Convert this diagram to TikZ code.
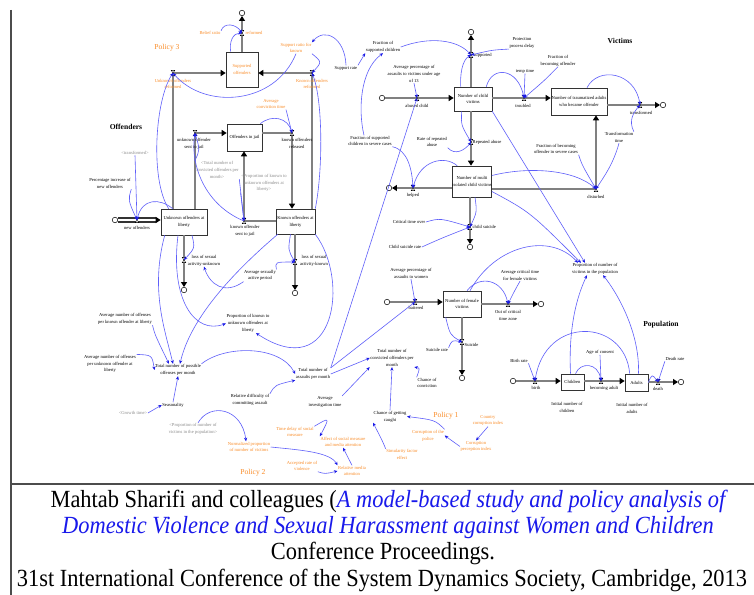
\documentclass[tikz,border=0pt]{standalone}
\usepackage{fontspec}
\setmainfont{Liberation Serif}
\usetikzlibrary{arrows.meta,calc}
\definecolor{orgc}{RGB}{250,140,40}
\definecolor{linkc}{RGB}{95,95,250}
\definecolor{linkd}{RGB}{25,25,230}
\definecolor{capblue}{RGB}{25,25,235}
\tikzset{
 lbl/.style={font=\fontsize{4.6}{6.8}\selectfont, align=center, inner sep=0.5bp},
 olbl/.style={lbl, text=orgc},
 glbl/.style={lbl, text=black!45},
 stock/.style={draw=black!80, fill=white, line width=0.6bp, font=\fontsize{4.6}{6.8}\selectfont, align=center, inner sep=0pt},
 cloudn/.style={circle, draw=black, line width=0.5bp, fill=white, minimum size=5.5bp, inner sep=0pt},
 pip/.style={line width=2.4bp, draw=black!50, -{Triangle[length=5pt,width=6pt,color=black]}},
 lnk/.style={draw=linkc, line width=0.6bp, -{Stealth[length=3.6pt,width=3.2pt,color=linkd]}},
 hdr/.style={font=\bfseries\fontsize{7.6}{9}\selectfont},
 pol/.style={text=orgc, font=\fontsize{7.6}{9}\selectfont},
 capt/.style={font=\fontsize{22.5}{26}\selectfont, inner sep=0pt},
 valvep/.pic={\draw[black, line width=0.35bp, fill=white] (-1.8,-2.6) -- (1.8,-2.6) -- (-1.8,2.6) -- (1.8,2.6) -- cycle;}
}
\begin{document}
\begin{tikzpicture}[x=1bp,y=-1bp]
\useasboundingbox (0,0) rectangle (754,595);
\fill[white] (0,0) rectangle (754,595);
% frame
\draw[line width=1.2bp, black!70] (11,10) -- (11,595);
\draw[line width=1.6bp, black!70] (11,484) -- (754,484);

% stocks
\node[stock, text=orgc, minimum width=32bp, minimum height=35bp] (so) at (242,69.5) {Supported\\offenders};
\node[stock, minimum width=35bp, minimum height=27bp] (oj) at (244.5,137.5) {Offenders in jail};
\node[stock, minimum width=46bp, minimum height=26bp] (uo) at (184,222) {Unknown offenders at\\liberty};
\node[stock, minimum width=39bp, minimum height=25bp] (ko) at (295.5,221.5) {Known offenders at\\liberty};
\node[stock, minimum width=38bp, minimum height=24bp] (cv) at (473,99) {Number of child\\victims};
\node[stock, minimum width=56bp, minimum height=27bp] (ta) at (579,101.5) {Number of traumatized adults\\who became offender};
\node[stock, minimum width=39bp, minimum height=31bp] (mv) at (472,181.5) {Number of multi\\isolated child victims};
\node[stock, minimum width=38bp, minimum height=26bp] (fv) at (462,304) {Number of female\\victims};
\node[stock, minimum width=23bp, minimum height=16bp] (ch) at (572.5,382) {Children};
\node[stock, minimum width=23bp, minimum height=17bp] (ad) at (636.5,382.5) {Adults};

% clouds
\node[cloudn] (c1) at (242,13) {};
\node[cloudn] (c2) at (471,32) {};
\node[cloudn] (c3) at (382,98) {};
\node[cloudn] (c4) at (663,105) {};
\node[cloudn] (c5) at (389,188) {};
\node[cloudn] (c6) at (470,247) {};
\node[cloudn] (c7) at (115,220) {};
\node[cloudn] (c8) at (184,290) {};
\node[cloudn] (c9) at (295,293) {};
\node[cloudn] (c10) at (387,302) {};
\node[cloudn] (c11) at (541,304) {};
\node[cloudn] (c12) at (462,378) {};
\node[cloudn] (c13) at (513,381) {};
\node[cloudn] (c14) at (681,382) {};

% valve coordinates
\coordinate (vref) at (242,33);
\coordinate (vur) at (173,73);
\coordinate (vkr) at (312,73);
\coordinate (vus) at (195,133);
\coordinate (vkrel) at (292,133);
\coordinate (vks) at (244,221);
\coordinate (vnew) at (137,220);
\coordinate (vlu) at (184,260);
\coordinate (vlk) at (295,262);
\coordinate (vsup) at (471,55);
\coordinate (vab) at (417,98);
\coordinate (vtr) at (524,98);
\coordinate (vtf) at (640,105);
\coordinate (vrep) at (471,142);
\coordinate (vhelp) at (413,188);
\coordinate (vdis) at (596,189);
\coordinate (vcs) at (470,227);
\coordinate (vbat) at (415,302);
\coordinate (vout) at (508,304);
\coordinate (vsui) at (462,342);
\coordinate (vbirth) at (535,381);
\coordinate (vbec) at (601,381);
\coordinate (vdeath) at (658,382);

% pipes
\draw[pip] (so.north) -- (c1.south);
\draw[pip] (uo.north -| vur) -- (vur) -- (so.west |- vur);
\draw[pip] (ko.north -| vkr) -- (vkr) -- (so.east |- vkr);
\draw[pip] (uo.north -| vus) -- (vus) -- (oj.west |- vus);
\draw[pip] (oj.east |- vkrel) -- (vkrel) -- (ko.north -| vkrel);
\draw[pip] (ko.west |- vks) -- (vks) -- (oj.south -| vks);
\draw[line width=2.6bp, draw=black!80, double=white, double distance=1.1bp, -{Triangle[length=5pt,width=6pt,color=black]}] (c7.east) -- (uo.west |- vnew);
\draw[pip] (uo.south -| vlu) -- (c8.north);
\draw[pip] (ko.south -| vlk) -- (c9.north);
\draw[pip] (cv.north -| vsup) -- (c2.south);
\draw[pip] (c3.east) -- (cv.west |- vab);
\draw[pip] (cv.east |- vtr) -- (ta.west |- vtr);
\draw[pip] (ta.east |- vtf) -- (c4.west);
\draw[pip] (cv.south -| vrep) -- (mv.north -| vrep);
\draw[pip] (mv.west |- vhelp) -- (c5.east);
\draw[pip] (mv.east |- vdis) -- (vdis) -- (ta.south -| vdis);
\draw[pip] (mv.south -| vcs) -- (c6.north);
\draw[pip] (c10.east) -- (fv.west |- vbat);
\draw[pip] (fv.east |- vout) -- (c11.west);
\draw[pip] (fv.south -| vsui) -- (c12.north);
\draw[pip] (c13.east) -- (ch.west |- vbirth);
\draw[pip] (ch.east |- vbec) -- (ad.west |- vbec);
\draw[pip] (ad.east |- vdeath) -- (c14.west);

\foreach \v in {vref,vur,vkr,vus,vkrel,vks,vnew,vlu,vlk,vsup,vab,vtr,vtf,vrep,vhelp,vdis,vcs,vbat,vout,vsui,vbirth,vbec,vdeath} \pic at (\v) {valvep};

% headings
\node[hdr] (hoff) at (126,127) {Offenders};
\node[hdr] (hvic) at (620,41) {Victims};
\node[hdr] (hpop) at (661,325) {Population};
\node[pol] (p3) at (167,48) {Policy 3};
\node[pol] (p2) at (253,473) {Policy 2};
\node[pol] (p1) at (446,416) {Policy 1};

% orange labels
\node[olbl] (lbelief) at (210,33) {Belief ratio};
\node[olbl, anchor=west] (lreformed) at (245,33) {reformed};
\node[olbl] (lur) at (173,84) {Unknown offenders\\reformed};
\node[olbl] (lkr) at (312,84) {Known offenders\\reformed};
\node[olbl] (lsrk) at (296,48) {Support ratio for\\known};
\node[olbl] (lact) at (271,104) {Average\\conviction time};
\node[olbl] (lnorm) at (249,447) {Normalized proportion\\of number of victims};
\node[olbl] (ltd) at (295,432) {Time delay of social\\measure};
\node[olbl] (laff) at (343,442) {Affect of social measure\\and media attention};
\node[olbl] (lrma) at (352,471) {Relative media\\attention};
\node[olbl] (lacc) at (302,466) {Accepted rate of\\violence};
\node[olbl] (lcorp) at (428,435.5) {Corruption of the\\police};
\node[olbl] (lcci) at (488,420.5) {Country\\corruption index};
\node[olbl] (lcpi) at (476,446.5) {Corruption\\perception index};
\node[olbl] (lsim) at (402,454.5) {Simularity factor\\effect};

% gray labels
\node[glbl] (ltcm) at (217,170) {<Total number of\\convicted offenders per\\month>};
\node[glbl] (lpku) at (264,183) {<Proportion of known to\\unknown offenders at\\liberty>};
\node[glbl] (ltransf) at (135,153) {<transformed>};
\node[glbl] (lgrowth) at (133,413) {<Growth time>};
\node[glbl] (lppv) at (193,429) {<Proportion of number of\\victims in the population>};

% black labels
\node[lbl] (lsr) at (346,68) {Support rate};
\node[lbl] (lfsc) at (383,47) {Fraction of\\supported children};
\node[lbl, anchor=west] (lsupported) at (473,55) {supported};
\node[lbl] (lppd) at (522,43) {Protection\\process delay};
\node[lbl] (lapc) at (414,74) {Average percentage of\\assaults to victims under age\\of 13};
\node[lbl] (labused) at (417,106) {abused child};
\node[lbl] (ltemp) at (525,71) {temp time};
\node[lbl] (lfbo) at (558,60.5) {Fraction of\\becoming offender};
\node[lbl] (ltroubled) at (523,105.5) {troubled};
\node[lbl] (ltransformed) at (641,113) {transformed};
\node[lbl] (ltt) at (619,137.5) {Transformation\\time};
\node[lbl] (lfbos) at (556,149) {Fraction of becoming\\offender in severe cases};
\node[lbl] (ldisturbed) at (596,197) {disturbed};
\node[lbl] (lrra) at (432,142) {Rate of repeated\\abuse};
\node[lbl, anchor=west] (lrepeated) at (472,142) {Repeated abuse};
\node[lbl] (lfscs) at (370,141) {Fraction of supported\\children in severe cases};
\node[lbl] (lhelped) at (413,195.5) {helped};
\node[lbl] (lcto) at (409,222) {Critical time over};
\node[lbl] (lcsr) at (405,247) {Child suicide rate};
\node[lbl, anchor=west] (lchildsuicide) at (472,227) {child suicide};
\node[lbl] (lusj) at (194,143.5) {unknown offender\\sent to jail};
\node[lbl] (lkrel) at (297,143.5) {known offenders\\released};
\node[lbl] (lksj) at (245,231) {known offender\\sent to jail};
\node[lbl] (lpinc) at (110,183.5) {Percentage increase of\\new offenders};
\node[lbl] (lnew) at (137,228) {new offenders};
\node[lbl] (llu) at (204,260.5) {loss of sexual\\activity-unknown};
\node[lbl] (llk) at (314,260.5) {loss of sexual\\activity-known};
\node[lbl] (lasap) at (260,275.5) {Average sexually\\active period};
\node[lbl] (lpkul) at (248,323.5) {Proportion of known to\\unknown offenders at\\liberty};
\node[lbl] (lanok) at (125,319) {Average number of offenses\\per known offender at liberty};
\node[lbl] (lanou) at (110,364) {Average number of offenses\\per unknown offender at\\liberty};
\node[lbl] (ltpo) at (178,370) {Total number of possible\\offenses per month};
\node[lbl] (lseason) at (173,405) {Seasonality};
\node[lbl] (ltapm) at (313,374) {Total number of\\assaults per month};
\node[lbl] (lrdca) at (250,400) {Relative difficulty of\\committing assault};
\node[lbl] (lapw) at (411,273.5) {Average percentage of\\assaults to women};
\node[lbl] (lbattered) at (416,308) {battered};
\node[lbl] (lact2) at (520,275.5) {Average critical time\\for female victims};
\node[lbl] (lout) at (508,315.5) {Out of critical\\time zone};
\node[lbl, anchor=west] (lsuicide) at (464,345) {Suicide};
\node[lbl] (lsrate) at (437,350) {Suicide rate};
\node[lbl] (ltcom) at (392,358) {Total number of\\convicted offenders per\\month};
\node[lbl] (lait) at (325,402) {Average\\investigation time};
\node[lbl] (lcoc) at (427,383) {Chance of\\conviction};
\node[lbl] (lcgc) at (390,416.5) {Chance of getting\\caught};
\node[lbl] (lpnv) at (595,269) {Proportion of number of\\victims in the population};
\node[lbl] (lbr) at (519,361) {Birth rate};
\node[lbl] (lbirth) at (536,388) {birth};
\node[lbl] (lcons) at (600,352) {Age of consent};
\node[lbl] (lbec) at (604,388) {becoming adult};
\node[lbl] (ldr) at (675,359) {Death rate};
\node[lbl] (ldeath) at (658,389) {death};
\node[lbl] (linc) at (567,407.5) {Initial number of\\children};
\node[lbl] (lina) at (632,408.5) {Initial number of\\adults};

% links
\draw[lnk] (lbelief.north east) .. controls (224,22) and (236,24) .. (vref);
\draw[lnk] ($(so.north west)+(5,0)$) .. controls (229,42) and (233,33) .. (vref);
\draw[lnk] (lsrk.south) .. controls (275,105) and (205,110) .. (vur);
\draw[lnk] ($(uo.north west)+(8,0)$) .. controls (150,180) and (155,100) .. (vur);
\draw[lnk] (lsr.north) .. controls (345,38) and (325,27) .. (lsrk.north east);
\draw[lnk] (lsrk.south east) .. controls (322,62) .. (vkr);
\draw[lnk] (ko.north east) .. controls (323,170) and (323,100) .. (vkr);
\draw[lnk] (lsr.north east) -- (lfsc.south west);
\draw[lnk] (lfsc.east) .. controls (430,36) and (458,40) .. (vsup);
\draw[lnk] ($(cv.north west)+(7,0)$) .. controls (460,75) and (462,60) .. (vsup);
\draw[lnk] (lppd.south west) .. controls (492,50) .. (vsup);
\draw[lnk] (lapc.south) -- (vab);
\draw[lnk] ($(cv.north east)+(-6,0)$) .. controls (492,65) and (518,68) .. (vtr);
\draw[lnk] (ltemp.south) -- (vtr);
\draw[lnk] (lfbo.south) .. controls (545,80) .. (vtr);
\draw[lnk] ($(ta.north)+(8,0)$) .. controls (598,66) and (635,72) .. (vtf);
\draw[lnk] (ltt.north east) .. controls (628,120) and (634,112) .. (vtf);
\draw[lnk] (ltt.south) .. controls (613,165) and (603,178) .. (vdis);
\draw[lnk] (lfbos.south east) .. controls (582,165) .. (vdis);
\draw[lnk] ($(mv.east)+(0,-6)$) .. controls (530,166) and (575,170) .. (vdis);
\draw[lnk] (cv.south east) -- ($(lpnv.north)+(-10,0)$);
\draw[lnk] ($(mv.east)+(0,10)$) .. controls (530,212) .. ($(lpnv.north)+(-14,0)$);
\draw[lnk] ($(fv.north)+(8,0)$) .. controls (495,245) and (550,232) .. ($(lpnv.north)+(-17,0)$);
\draw[lnk] ($(cv.south west)+(8,0)$) .. controls (461,125) .. (vrep);
\draw[lnk] (lrra.south east) .. controls (455,156) and (465,150) .. (vrep);
\draw[lnk] ($(mv.north west)+(5,0)$) .. controls (445,155) and (420,160) .. (vhelp);
\draw[lnk] (lfscs.south east) .. controls (408,150) and (412,170) .. (vhelp);
\draw[lnk] ($(lfscs.north)+(-6,0)$) .. controls (358,110) and (360,70) .. (lfsc.south);
\draw[lnk] (lcto.east) .. controls (440,218) .. (vcs);
\draw[lnk] (lcsr.east) .. controls (442,238) .. (vcs);
\draw[lnk] ($(mv.south)+(3,0)$) .. controls (477,212) .. (vcs);
\draw[lnk] (ltapm.north east) -- (vab);
\draw[lnk] ($(oj.north east)+(-2,0)$) .. controls (272,114) and (288,118) .. (vkrel);
\draw[lnk] (lact.south east) -- (vkrel);
\draw[lnk] (ltcm.south east) -- (vks);
\draw[lnk] (lpku.south west) -- (vks);
\draw[lnk] (vks) .. controls (205,205) and (190,165) .. (vus);
\draw[lnk] (ltcm.north west) .. controls (200,150) .. (vus);
\draw[lnk] (ltransf.south) -- (vnew);
\draw[lnk] (lpinc.south east) .. controls (128,200) .. (vnew);
\draw[lnk] ($(uo.north west)+(12,0)$) .. controls (160,198) and (142,198) .. (vnew);
\draw[lnk] ($(uo.south)+(8,0)$) .. controls (195,248) .. (vlu);
\draw[lnk] ($(ko.south)+(-5,0)$) .. controls (288,250) .. (vlk);
\draw[lnk] (lasap.south west) .. controls (225,295) and (210,285) .. (llu.south);
\draw[lnk] (lasap.north east) .. controls (275,262) .. (vlk);
\draw[lnk] (ko.south east) .. controls (350,280) and (335,385) .. ($(lpkul.south)+(8,0)$);
\draw[lnk] ($(uo.south)+(-6,0)$) .. controls (170,300) and (195,335) .. (lpkul.west);
\draw[lnk] ($(uo.south west)+(4,0)$) .. controls (150,290) and (165,330) .. ($(ltpo.north)+(-5,0)$);
\draw[lnk] ($(ko.south west)+(2,0)$) .. controls (230,275) and (190,320) .. ($(ltpo.north)+(2,0)$);
\draw[lnk] (lanok.south east) .. controls (155,335) .. ($(ltpo.north)+(-9,0)$);
\draw[lnk] (lanou.north east) .. controls (152,355) .. (ltpo.west);
\draw[lnk] (lseason.north) -- (ltpo.south);
\draw[lnk] (lgrowth.east) -- (lseason.west);
\draw[lnk] (ltpo.north east) .. controls (225,345) and (280,345) .. (ltapm.west);
\draw[lnk] (lrdca.north east) .. controls (275,385) .. (ltapm.south west);
\draw[lnk] (ltapm.east) -- (ltcom.west);
\draw[lnk] (ltapm.north east) -- (vbat);
\draw[lnk] (lait.north east) -- (ltcom.south west);
\draw[lnk] (lcoc.north west) .. controls (420,368) .. (ltcom.south east);
\draw[lnk] (lcgc.north) -- (ltcom.south);
\draw[lnk] (lcorp.north east) .. controls (435,420) .. (lcgc.east);
\draw[lnk] (lcci.south) -- (lcpi.north);
\draw[lnk] (lcpi.west) -- (lcorp.east);
\draw[lnk] (lsim.north west) .. controls (382,440) .. (lcgc.south west);
\draw[lnk] ($(lppv.north)+(5,0)$) .. controls (210,402) and (242,408) .. ($(lnorm.north)+(-3,0)$);
\draw[lnk] (ltd.north east) .. controls (330,417) .. (laff.north west);
\draw[lnk] (lrma.north) -- (laff.south);
\draw[lnk] (lnorm.east) .. controls (300,450) and (330,452) .. (lrma.north west);
\draw[lnk] (lacc.south east) .. controls (325,474) .. (lrma.west);
\draw[lnk] (lapw.south) -- (vbat);
\draw[lnk] (lact2.south) .. controls (515,290) .. (vout);
\draw[lnk] ($(fv.north)+(5,0)$) .. controls (480,274) and (503,280) .. (vout);
\draw[lnk] ($(fv.south west)+(3,0)$) .. controls (450,335) .. (vsui);
\draw[lnk] (lsrate.north east) .. controls (452,340) .. (vsui);
\draw[lnk] ($(ch.north)+(-2,0)$) .. controls (568,320) and (580,290) .. ($(lpnv.south)+(-8,0)$);
\draw[lnk] ($(ad.north)+(2,0)$) .. controls (640,330) and (615,290) .. ($(lpnv.south)+(8,0)$);
\draw[lnk] ($(ch.north)+(3,0)$) .. controls (580,362) and (598,362) .. (vbec);
\draw[lnk] ($(ad.north west)+(5,0)$) .. controls (625,318) and (545,315) .. (vbirth);
\draw[lnk] (ad.east) .. controls (652,374) .. (vdeath);
\draw[lnk] (lbr.south east) -- (vbirth);
\draw[lnk] (lcons.south) -- (vbec);
\draw[lnk] (ldr.south west) -- (vdeath);

% caption
\node[capt, anchor=base] (cap1) at (388,507) {\scalebox{1}[1.1]{Mahtab Sharifi and colleagues (\textcolor{capblue}{\itshape A model-based study and policy analysis of}}};
\node[capt, anchor=base, text=capblue, font=\fontsize{22.5}{26}\selectfont\itshape] (cap2) at (388,533) {\scalebox{1}[1.1]{Domestic Violence and Sexual Harassment against Women and Children}};
\node[capt, anchor=base] (cap3) at (383,559.5) {\scalebox{1}[1.1]{Conference Proceedings.}};
\node[capt, anchor=base] (cap4) at (382,586) {\scalebox{1}[1.1]{31st International Conference of the System Dynamics Society, Cambridge, 2013}};
\end{tikzpicture}
\end{document}
